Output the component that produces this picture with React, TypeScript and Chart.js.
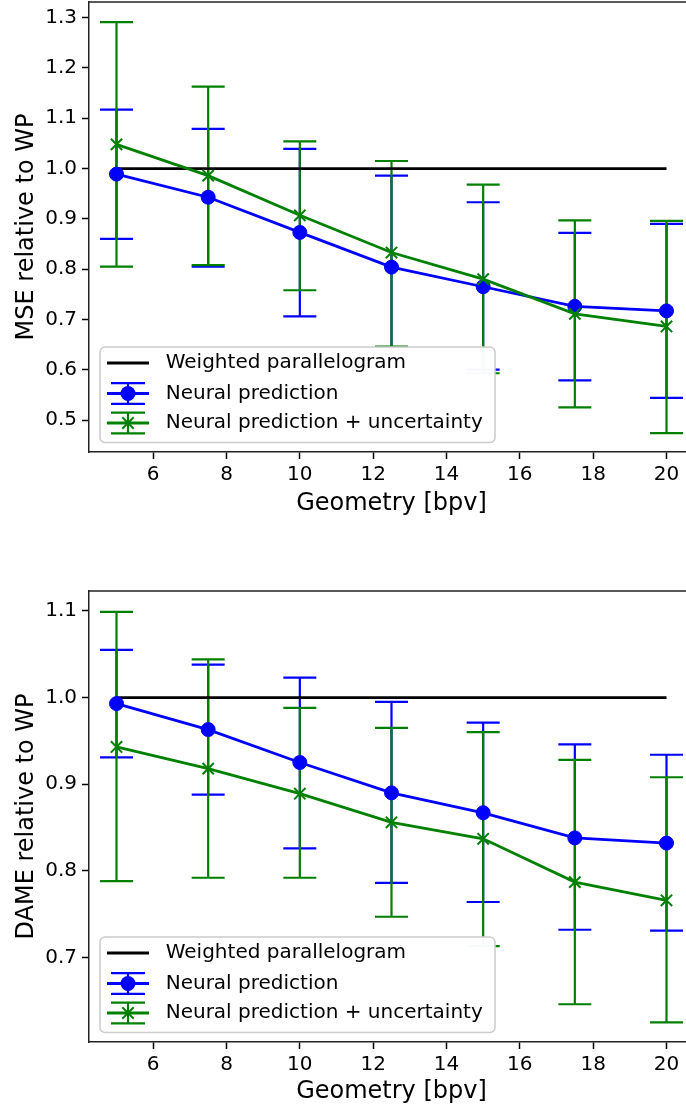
import React, { useEffect, useRef } from "react";
import { Chart, registerables } from "chart.js";

Chart.register(...registerables);

const FONT = "'DejaVu Sans', 'Liberation Sans', sans-serif";

// ---- data ----
const xValues = [5, 7.5, 10, 12.5, 15, 17.5, 20];
const xTicks = [6, 8, 10, 12, 14, 16, 18, 20];
const wpX = [5, 20];
const wpY = [1.0, 1.0];

const mseNeural = [0.989, 0.943, 0.873, 0.804, 0.765, 0.726, 0.717];
const mseNeuralLow = [0.86, 0.805, 0.706, 0.622, 0.6, 0.579, 0.544];
const mseNeuralHigh = [1.117, 1.079, 1.039, 0.986, 0.933, 0.872, 0.89];
const mseUnc = [1.048, 0.986, 0.907, 0.833, 0.78, 0.711, 0.686];
const mseUncLow = [0.805, 0.808, 0.758, 0.646, 0.593, 0.525, 0.474];
const mseUncHigh = [1.291, 1.163, 1.054, 1.015, 0.968, 0.897, 0.896];
const mseTicks = [0.5, 0.6, 0.7, 0.8, 0.9, 1.0, 1.1, 1.2, 1.3];

const dameNeural = [0.993, 0.963, 0.925, 0.89, 0.867, 0.838, 0.832];
const dameNeuralLow = [0.931, 0.888, 0.826, 0.786, 0.764, 0.732, 0.731];
const dameNeuralHigh = [1.055, 1.038, 1.023, 0.995, 0.971, 0.946, 0.934];
const dameUnc = [0.943, 0.918, 0.889, 0.856, 0.837, 0.787, 0.766];
const dameUncLow = [0.788, 0.792, 0.792, 0.747, 0.713, 0.646, 0.625];
const dameUncHigh = [1.099, 1.044, 0.988, 0.965, 0.96, 0.928, 0.908];
const dameTicks = [0.7, 0.8, 0.9, 1.0, 1.1];

const legendLabels = [
  "Weighted parallelogram",
  "Neural prediction",
  "Neural prediction + uncertainty",
];

const BLUE = "#0000ff";
const GREEN = "#008000";

type PanelProps = {
  top: number;
  height: number;
  xAxisHeight: number;
  xTitlePad: number;
  yLabel: string;
  yMin: number;
  yMax: number;
  yTicks: number[];
  neural: number[];
  neuralLow: number[];
  neuralHigh: number[];
  unc: number[];
  uncLow: number[];
  uncHigh: number[];
};

function Panel(p: PanelProps) {
  const ref = useRef<HTMLCanvasElement | null>(null);

  useEffect(() => {
    const canvas = ref.current;
    if (!canvas) return;

    const errorBars = {
      id: "errorBars",
      beforeDatasetsDraw(chart: any) {
        const { ctx, scales } = chart;
        const xs = scales.x;
        const ys = scales.y;
        const series = [
          { low: p.neuralLow, high: p.neuralHigh, color: BLUE },
          { low: p.uncLow, high: p.uncHigh, color: GREEN },
        ];
        ctx.save();
        for (const s of series) {
          ctx.strokeStyle = s.color;
          ctx.lineWidth = 2.2;
          for (let i = 0; i < xValues.length; i++) {
            const px = xs.getPixelForValue(xValues[i]);
            const pl = ys.getPixelForValue(s.low[i]);
            const ph = ys.getPixelForValue(s.high[i]);
            ctx.beginPath();
            ctx.moveTo(px, pl);
            ctx.lineTo(px, ph);
            ctx.moveTo(px - 16.5, pl);
            ctx.lineTo(px + 16.5, pl);
            ctx.moveTo(px - 16.5, ph);
            ctx.lineTo(px + 16.5, ph);
            ctx.stroke();
          }
        }
        ctx.restore();
      },
      afterDraw(chart: any) {
        const { ctx, chartArea } = chart;
        ctx.save();
        // top spine
        ctx.strokeStyle = "#222";
        ctx.lineWidth = 1.5;
        ctx.beginPath();
        ctx.moveTo(chartArea.left, chartArea.top);
        ctx.lineTo(chartArea.right, chartArea.top);
        ctx.stroke();

        // legend
        const bx = chartArea.left + 11;
        const bh = 95.5;
        const by = chartArea.bottom - 9.5 - bh;
        const bw = 395;
        ctx.fillStyle = "rgba(255,255,255,0.97)";
        ctx.strokeStyle = "#cccccc";
        ctx.lineWidth = 1.5;
        ctx.beginPath();
        (ctx as any).roundRect(bx, by, bw, bh, 5);
        ctx.fill();
        ctx.stroke();

        const rows = [by + 16, by + 46.5, by + 76];
        const hx0 = bx + 7;
        const hx1 = bx + 49;
        const hc = (hx0 + hx1) / 2;

        // row 1: black line
        ctx.strokeStyle = "#000";
        ctx.lineWidth = 2.8;
        ctx.beginPath();
        ctx.moveTo(hx0, rows[0]);
        ctx.lineTo(hx1, rows[0]);
        ctx.stroke();

        const drawErr = (y: number, color: string) => {
          ctx.strokeStyle = color;
          ctx.lineWidth = 2.2;
          ctx.beginPath();
          ctx.moveTo(hc, y - 10.3);
          ctx.lineTo(hc, y + 10.3);
          ctx.moveTo(hc - 17, y - 10.3);
          ctx.lineTo(hc + 17, y - 10.3);
          ctx.moveTo(hc - 17, y + 10.3);
          ctx.lineTo(hc + 17, y + 10.3);
          ctx.stroke();
          ctx.lineWidth = 2.8;
          ctx.beginPath();
          ctx.moveTo(hx0, y);
          ctx.lineTo(hx1, y);
          ctx.stroke();
        };
        // row 2: blue errorbar + circle
        drawErr(rows[1], BLUE);
        ctx.fillStyle = BLUE;
        ctx.beginPath();
        ctx.arc(hc, rows[1], 7.5, 0, Math.PI * 2);
        ctx.fill();

        // row 3: green errorbar + x
        drawErr(rows[2], GREEN);
        ctx.strokeStyle = GREEN;
        ctx.lineWidth = 2;
        ctx.beginPath();
        ctx.moveTo(hc - 5.7, rows[2] - 5.7);
        ctx.lineTo(hc + 5.7, rows[2] + 5.7);
        ctx.moveTo(hc - 5.7, rows[2] + 5.7);
        ctx.lineTo(hc + 5.7, rows[2] - 5.7);
        ctx.stroke();

        ctx.fillStyle = "#000";
        ctx.font = `20px ${FONT}`;
        ctx.textAlign = "left";
        ctx.textBaseline = "middle";
        legendLabels.forEach((t, i) => ctx.fillText(t, bx + 65.7, rows[i]));
        ctx.restore();
      },
    };

    const tickFont = { family: FONT, size: 20 };
    const titleFont = { family: FONT, size: 24 };

    const chart = new Chart(canvas, {
      type: "line",
      data: {
        datasets: [
          {
            label: legendLabels[0],
            data: wpX.map((x, i) => ({ x, y: wpY[i] })),
            borderColor: "#000",
            borderWidth: 2.8,
            pointRadius: 0,
            order: 3,
          },
          {
            label: legendLabels[1],
            data: xValues.map((x, i) => ({ x, y: p.neural[i] })),
            borderColor: BLUE,
            backgroundColor: BLUE,
            borderWidth: 2.8,
            pointStyle: "circle",
            pointRadius: 7,
            pointBackgroundColor: BLUE,
            pointBorderColor: BLUE,
            pointBorderWidth: 1,
            order: 2,
          },
          {
            label: legendLabels[2],
            data: xValues.map((x, i) => ({ x, y: p.unc[i] })),
            borderColor: GREEN,
            backgroundColor: GREEN,
            borderWidth: 2.8,
            pointStyle: "crossRot",
            pointRadius: 8,
            pointBorderColor: GREEN,
            pointBorderWidth: 2,
            order: 1,
          },
        ],
      },
      options: {
        responsive: false,
        maintainAspectRatio: false,
        animation: false,
        events: [],
        layout: {
          autoPadding: false,
          padding: { top: 2, right: 6, left: 0, bottom: 0 },
        },
        plugins: {
          legend: { display: false },
          tooltip: { enabled: false },
        },
        scales: {
          x: {
            type: "linear",
            min: 4.25,
            max: 20.75,
            afterBuildTicks: (s: any) => {
              s.ticks = xTicks.map((v) => ({ value: v }));
            },
            afterFit: (s: any) => {
              s.height = p.xAxisHeight;
              s.paddingLeft = 0;
              s.paddingRight = 0;
              s.paddingTop = 0;
              s.paddingBottom = 0;
            },
            grid: {
              drawOnChartArea: false,
              drawTicks: true,
              tickLength: 7,
              tickWidth: 1.5,
              tickColor: "#000",
            },
            border: { display: true, color: "#222", width: 1.5 },
            ticks: {
              color: "#000",
              font: tickFont,
              padding: 4,
              maxRotation: 0,
              autoSkip: false,
              callback: (v: any) => String(v),
            },
            title: {
              display: true,
              text: "Geometry [bpv]",
              color: "#000",
              font: titleFont,
              padding: { top: 0, bottom: p.xTitlePad },
            },
          },
          y: {
            type: "linear",
            min: p.yMin,
            max: p.yMax,
            afterBuildTicks: (s: any) => {
              s.ticks = p.yTicks.map((v) => ({ value: v }));
            },
            afterFit: (s: any) => {
              s.width = 89;
              s.paddingLeft = 0;
              s.paddingRight = 0;
              s.paddingTop = 0;
              s.paddingBottom = 0;
            },
            grid: {
              drawOnChartArea: false,
              drawTicks: true,
              tickLength: 7,
              tickWidth: 1.5,
              tickColor: "#000",
            },
            border: { display: true, color: "#222", width: 1.5 },
            ticks: {
              color: "#000",
              font: tickFont,
              padding: 5,
              autoSkip: false,
              callback: (v: any) => Number(v).toFixed(1),
            },
            title: {
              display: true,
              text: p.yLabel,
              color: "#000",
              font: titleFont,
              padding: { top: 12, bottom: 0 },
            },
          },
        },
      },
      plugins: [errorBars],
    } as any);

    return () => chart.destroy();
  }, []);

  return (
    <canvas
      ref={ref}
      width={700}
      height={p.height}
      style={{
        position: "absolute",
        left: 0,
        top: p.top,
        width: 700,
        height: p.height,
        display: "block",
      }}
    />
  );
}

export default function App() {
  useEffect(() => {
    document.body.style.margin = "0";
  }, []);
  return (
    <div
      style={{
        position: "absolute",
        left: 0,
        top: 0,
        width: 686,
        height: 1109,
        overflow: "hidden",
        background: "#fff",
      }}
    >
      <Panel
        top={0}
        height={530}
        xAxisHeight={78}
        xTitlePad={12}
        yLabel="MSE relative to WP"
        yMin={0.4364}
        yMax={1.3312}
        yTicks={mseTicks}
        neural={mseNeural}
        neuralLow={mseNeuralLow}
        neuralHigh={mseNeuralHigh}
        unc={mseUnc}
        uncLow={mseUncLow}
        uncHigh={mseUncHigh}
      />
      <Panel
        top={589}
        height={520}
        xAxisHeight={67}
        xTitlePad={3}
        yLabel="DAME relative to WP"
        yMin={0.6024}
        yMax={1.123}
        yTicks={dameTicks}
        neural={dameNeural}
        neuralLow={dameNeuralLow}
        neuralHigh={dameNeuralHigh}
        unc={dameUnc}
        uncLow={dameUncLow}
        uncHigh={dameUncHigh}
      />
    </div>
  );
}
